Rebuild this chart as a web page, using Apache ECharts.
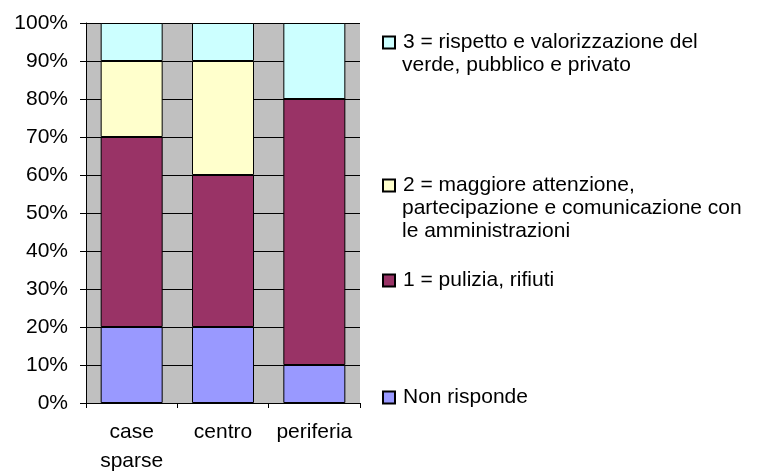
<!DOCTYPE html>
<html>
<head>
<meta charset="utf-8">
<script src="https://cdn.jsdelivr.net/npm/echarts@6/dist/echarts.min.js"></script>
<style>
  html, body { margin: 0; padding: 0; background: #fff; }
  #chart { width: 758px; height: 472px; }
</style>
</head>
<body>
<div id="chart"></div>
<script>
const categories = ["case\nsparse", "centro", "periferia"];
const nonRisponde = [20, 20, 10];
const pulizia = [50, 40, 70];
const attenzione = [20, 30, 0];
const verde = [10, 10, 20];

const seriesNames = [
  "Non risponde",
  "1 = pulizia, rifiuti",
  "2 = maggiore attenzione,",
  "3 = rispetto e valorizzazione del"
];
const seriesValues = [nonRisponde, pulizia, attenzione, verde];
const seriesColors = ["#9999FF", "#993366", "#FFFFCC", "#CCFFFF"];

const font = "Liberation Sans, Arial, sans-serif";
const fontSize = 21;

const chart = echarts.init(document.getElementById("chart"));

// one legend per item so each can sit at its own height
const legendTops = [387, 270, 175, 32];
const legends = seriesNames.map((name, i) => ({
  data: [name],
  left: 382,
  top: legendTops[i],
  padding: 0,
  orient: "vertical",
  icon: "rect",
  itemWidth: 12,
  itemHeight: 12,
  selectedMode: false,
  textStyle: {
    fontFamily: font,
    fontSize: fontSize,
    color: "#000",
    padding: [0, 0, 0, 3],
  },
}));

// continuation lines of the long legend labels
const extraLines = [
  { text: "verde, pubblico e privato", top: 55 },
  { text: "partecipazione e comunicazione con", top: 198 },
  { text: "le amministrazioni", top: 221 },
];

const option = {
  animation: false,
  grid: {
    left: 86,
    right: 398,
    top: 23,
    bottom: 69,
    outerBoundsMode: "none",
    containLabel: false,
    show: true,
    backgroundColor: "#C0C0C0",
    borderWidth: 0,
  },
  legend: legends,
  graphic: extraLines.map((l) => ({
    type: "text",
    left: 402,
    top: l.top,
    style: {
      text: l.text,
      font: fontSize + "px " + font,
      fill: "#000",
    },
  })),
  xAxis: {
    type: "category",
    data: categories,
    axisLine: { lineStyle: { color: "#000", width: 1 } },
    axisTick: { show: true, length: 5, lineStyle: { color: "#000" } },
    axisLabel: {
      interval: 0,
      margin: 15,
      color: "#000",
      fontFamily: font,
      fontSize: fontSize,
      lineHeight: 29,
    },
  },
  yAxis: {
    type: "value",
    min: 0,
    max: 100,
    interval: 10,
    axisLine: { show: true, lineStyle: { color: "#000", width: 1 } },
    axisTick: { show: true, length: 6, lineStyle: { color: "#000" } },
    splitLine: { show: true, lineStyle: { color: "#000", width: 1 } },
    axisLabel: {
      formatter: "{value}%",
      margin: 18,
      color: "#000",
      fontFamily: font,
      fontSize: fontSize,
    },
  },
  series: seriesNames.map((name, i) => ({
    name: name,
    type: "bar",
    stack: "tot",
    barWidth: 62,
    data: seriesValues[i],
    itemStyle: {
      color: seriesColors[i],
      borderColor: "#000",
      borderWidth: 1,
    },
  })),
};

chart.setOption(option);
</script>
</body>
</html>
